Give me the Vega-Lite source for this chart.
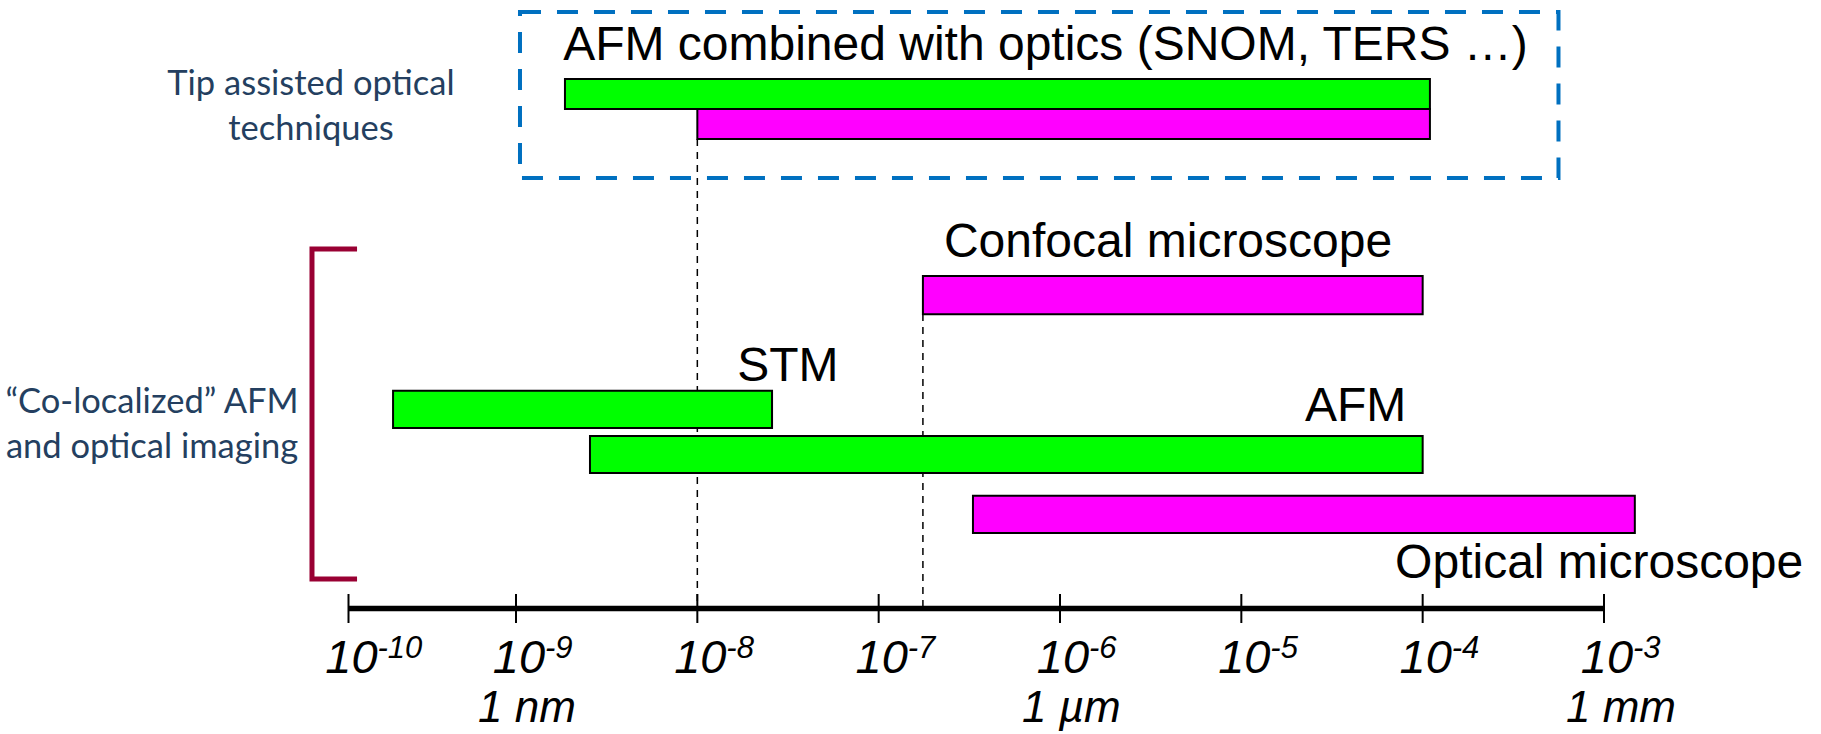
{
  "$schema": "https://vega.github.io/schema/vega-lite/v6.json",
  "width": 1821,
  "height": 734,
  "autosize": "none",
  "padding": 0,
  "background": "white",
  "config": {"view": {"stroke": null}},
  "datasets": {
    "bars": [
      {"name": "AFM combined with optics (AFM)", "kind": "probe", "start": -8.73, "end": -3.96, "top": 2.15, "bottom": 2.97},
      {"name": "AFM combined with optics (optics)", "kind": "optical", "start": -8.0, "end": -3.96, "top": 2.97, "bottom": 3.79},
      {"name": "Confocal microscope", "kind": "optical", "start": -6.756, "end": -4.0, "top": 7.52, "bottom": 8.56},
      {"name": "STM", "kind": "probe", "start": -9.734, "end": -7.588, "top": 10.65, "bottom": 11.66},
      {"name": "AFM", "kind": "probe", "start": -8.592, "end": -4.0, "top": 11.88, "bottom": 12.89},
      {"name": "Optical microscope", "kind": "optical", "start": -6.48, "end": -2.83, "top": 13.51, "bottom": 14.52}
    ],
    "labels": [
      {"text": "AFM combined with optics (SNOM, TERS …)", "x": -8.74, "y": 1.635},
      {"text": "Confocal microscope", "x": -6.64, "y": 7.0},
      {"text": "STM", "x": -7.78, "y": 10.38},
      {"text": "AFM", "x": -4.649, "y": 11.485},
      {"text": "Optical microscope", "x": -4.152, "y": 15.75}
    ],
    "notes": [
      {"text": "Tip assisted optical", "x": -10.224, "y": 2.589},
      {"text": "techniques", "x": -10.224, "y": 3.815},
      {"text": "“Co-localized” AFM", "x": -11.173, "y": 11.245},
      {"text": "and optical imaging", "x": -11.173, "y": 12.471}
    ],
    "bracket": [
      {"order": 1, "x": -9.949, "y": 6.785},
      {"order": 2, "x": -10.218, "y": 6.785},
      {"order": 3, "x": -10.218, "y": 15.777},
      {"order": 4, "x": -9.949, "y": 15.777}
    ],
    "box": [
      {"x": -8.978, "x2": -3.251, "y": 0.327, "y2": 4.85}
    ],
    "guides": [
      {"x": -8.0, "y": 3.787, "y2": 16.58},
      {"x": -6.756, "y": 8.556, "y2": 16.58}
    ],
    "axisline": [
      {"x": -10, "x2": -3, "y": 16.58}
    ],
    "ticks": [
      {"e": -10, "exp": "-10", "unit": ""},
      {"e": -9, "exp": "-9", "unit": "1 nm"},
      {"e": -8, "exp": "-8", "unit": ""},
      {"e": -7, "exp": "-7", "unit": ""},
      {"e": -6, "exp": "-6", "unit": "1 µm"},
      {"e": -5, "exp": "-5", "unit": ""},
      {"e": -4, "exp": "-4", "unit": ""},
      {"e": -3, "exp": "-3", "unit": "1 mm"}
    ]
  },
  "layer": [
    {
      "data": {"name": "box"},
      "mark": {"type": "rect", "fill": null, "fillOpacity": 0, "stroke": "#0070C0", "strokeWidth": 4, "strokeDash": [21, 16]},
      "encoding": {
        "x": {"field": "x", "type": "quantitative", "axis": null, "scale": {"type": "linear", "domain": [-10, -9, -3], "range": [348.5, 516, 1604], "nice": false, "zero": false}},
        "x2": {"field": "x2"},
        "y": {"field": "y", "type": "quantitative", "axis": null, "scale": {"type": "linear", "domain": [0, 20], "range": [0, 734], "nice": false, "zero": false}},
        "y2": {"field": "y2"}
      }
    },
    {
      "data": {"name": "guides"},
      "mark": {"type": "rule", "color": "black", "strokeWidth": 1.5, "strokeDash": [7, 6]},
      "encoding": {
        "x": {"field": "x", "type": "quantitative", "axis": null},
        "y": {"field": "y", "type": "quantitative", "axis": null},
        "y2": {"field": "y2"}
      }
    },
    {
      "data": {"name": "bars"},
      "mark": {"type": "rect", "stroke": "black", "strokeWidth": 2},
      "encoding": {
        "x": {"field": "start", "type": "quantitative", "axis": null},
        "x2": {"field": "end"},
        "y": {"field": "top", "type": "quantitative", "axis": null},
        "y2": {"field": "bottom"},
        "fill": {"field": "kind", "type": "nominal", "legend": null, "scale": {"domain": ["probe", "optical"], "range": ["#00FF00", "#FF00FF"]}},
        "tooltip": {"field": "name", "type": "nominal"}
      }
    },
    {
      "data": {"name": "labels"},
      "mark": {"type": "text", "align": "left", "baseline": "alphabetic", "font": "Liberation Sans", "fontSize": 48, "color": "black"},
      "encoding": {
        "x": {"field": "x", "type": "quantitative", "axis": null},
        "y": {"field": "y", "type": "quantitative", "axis": null},
        "text": {"field": "text"}
      }
    },
    {
      "data": {"name": "notes"},
      "mark": {"type": "text", "align": "center", "baseline": "alphabetic", "font": "Lato", "fontSize": 34.5, "color": "#243F60"},
      "encoding": {
        "x": {"field": "x", "type": "quantitative", "axis": null},
        "y": {"field": "y", "type": "quantitative", "axis": null},
        "text": {"field": "text"}
      }
    },
    {
      "data": {"name": "bracket"},
      "mark": {"type": "line", "color": "#990033", "strokeWidth": 5, "strokeJoin": "miter", "strokeCap": "butt"},
      "encoding": {
        "x": {"field": "x", "type": "quantitative", "axis": null},
        "y": {"field": "y", "type": "quantitative", "axis": null},
        "order": {"field": "order"}
      }
    },
    {
      "data": {"name": "axisline"},
      "mark": {"type": "rule", "color": "black", "strokeWidth": 5.5},
      "encoding": {
        "x": {"field": "x", "type": "quantitative", "axis": null},
        "x2": {"field": "x2"},
        "y": {"field": "y", "type": "quantitative", "axis": null}
      }
    },
    {
      "data": {"name": "ticks"},
      "mark": {"type": "rule", "color": "black", "strokeWidth": 2},
      "encoding": {
        "x": {"field": "e", "type": "quantitative", "axis": null},
        "y": {"datum": 16.185, "type": "quantitative", "axis": null},
        "y2": {"datum": 16.975}
      }
    },
    {
      "data": {"name": "ticks"},
      "mark": {"type": "text", "align": "center", "baseline": "alphabetic", "font": "Liberation Sans", "fontStyle": "italic", "fontSize": 47, "color": "black", "dx": 3},
      "encoding": {
        "x": {"field": "e", "type": "quantitative", "axis": null},
        "y": {"datum": 18.338, "type": "quantitative", "axis": null},
        "text": {"value": "10"}
      }
    },
    {
      "data": {"name": "ticks"},
      "mark": {"type": "text", "align": "left", "baseline": "alphabetic", "font": "Liberation Sans", "fontStyle": "italic", "fontSize": 31, "color": "black", "dx": 29, "dy": -15},
      "encoding": {
        "x": {"field": "e", "type": "quantitative", "axis": null},
        "y": {"datum": 18.338, "type": "quantitative", "axis": null},
        "text": {"field": "exp"}
      }
    },
    {
      "data": {"name": "ticks"},
      "mark": {"type": "text", "align": "left", "baseline": "alphabetic", "font": "Liberation Sans", "fontStyle": "italic", "fontSize": 44, "color": "black", "dx": -38},
      "encoding": {
        "x": {"field": "e", "type": "quantitative", "axis": null},
        "y": {"datum": 19.673, "type": "quantitative", "axis": null},
        "text": {"field": "unit"}
      }
    }
  ]
}
